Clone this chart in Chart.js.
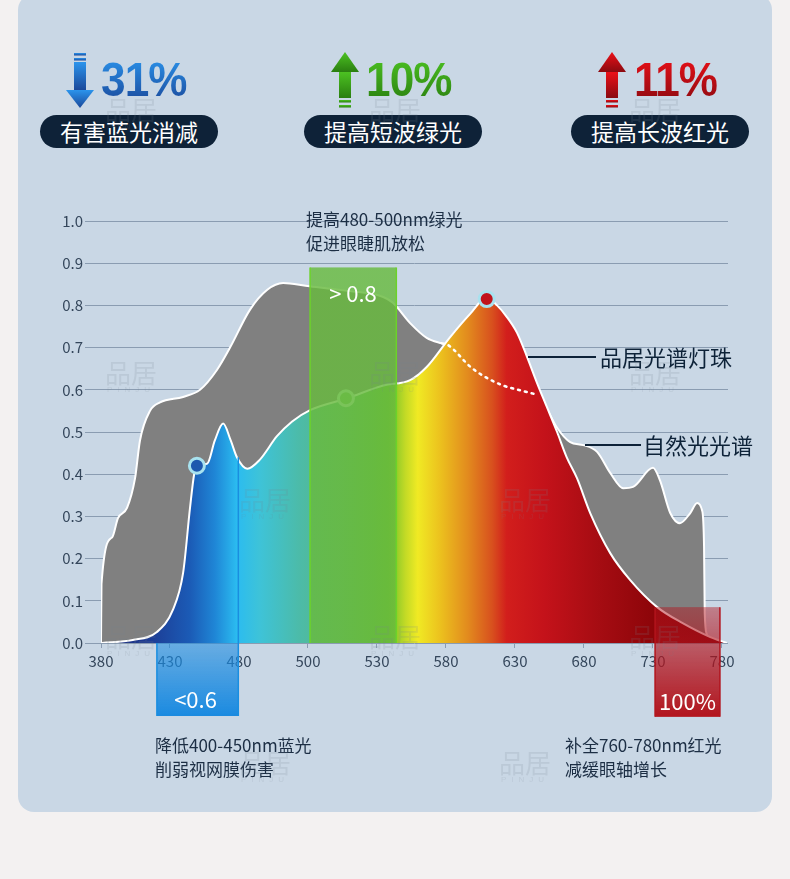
<!DOCTYPE html>
<html>
<head>
<meta charset="utf-8">
<script src="https://cdn.jsdelivr.net/npm/chart.js@4.4.1/dist/chart.umd.min.js"></script>
<style>
  body { margin: 0; width: 790px; height: 879px; background: #f3f1f1; position: relative; overflow: hidden;
         font-family: "Noto Sans CJK SC", "Noto Sans", sans-serif; }
  .card { position: absolute; left: 18px; top: -6px; width: 754px; height: 818px; background: #c9d7e5; border-radius: 16px; }
  #wrap { position: absolute; left: 0; top: 0; width: 790px; height: 879px; }
  .t { position: absolute; white-space: nowrap; }
  .pct { position: absolute; top: 56px; font-family: "Liberation Sans", Arial, sans-serif; font-weight: bold; font-size: 48px;
         line-height: 48px; transform: scaleX(0.92); transform-origin: left top; letter-spacing: -1px;
         -webkit-background-clip: text; background-clip: text; color: transparent; }
  .pill { position: absolute; top: 115px; width: 178px; height: 33px; border-radius: 17px; background: #0e2238;
          color: #fff; font-size: 23px; line-height: 33px; text-align: center; }
  .note { font-size: 17px; line-height: 24px; color: #1c2e44; }
  .big { font-size: 22px; line-height: 30px; color: #0d2238; }
  .lead { position: absolute; height: 2px; background: #0d2238; }
  .boxlab { position: absolute; color: #fff; font-size: 22px; line-height: 30px; text-align: center; }
  .wm { position: absolute; color: rgba(120,130,145,0.16); font-size: 26px; line-height: 26px; text-align: center; width: 60px; }
  .wm span { display: block; font-size: 8px; line-height: 10px; letter-spacing: 5px; font-family: "Liberation Sans", sans-serif; }
</style>
</head>
<body>
<div class="card"></div>

<svg class="t" style="left:66px;top:52px" width="28" height="56">
  <defs><linearGradient id="gb" x1="0" y1="0" x2="0" y2="1"><stop offset="0" stop-color="#2b94ec"/><stop offset="1" stop-color="#1a489a"/></linearGradient></defs>
  <rect x="8" y="1" width="12" height="2.5" fill="url(#gb)"/><rect x="8" y="6" width="12" height="2.5" fill="url(#gb)"/>
  <rect x="8" y="10" width="12" height="28" fill="url(#gb)"/><polygon points="0,38 28,38 14,56" fill="url(#gb)"/>
</svg>
<svg class="t" style="left:331px;top:52px" width="28" height="56">
  <defs><linearGradient id="gg" x1="0" y1="0" x2="0" y2="1"><stop offset="0" stop-color="#4cc222"/><stop offset="1" stop-color="#2a7e10"/></linearGradient></defs>
  <polygon points="14,0 28,20 0,20" fill="url(#gg)"/><rect x="8" y="20" width="12" height="26" fill="url(#gg)"/>
  <rect x="8" y="48" width="12" height="2.5" fill="url(#gg)"/><rect x="8" y="53" width="12" height="2.5" fill="url(#gg)"/>
</svg>
<svg class="t" style="left:598px;top:52px" width="28" height="56">
  <defs><linearGradient id="gr" x1="0" y1="0" x2="0" y2="1"><stop offset="0" stop-color="#ec1018"/><stop offset="1" stop-color="#8a0a10"/></linearGradient></defs>
  <polygon points="14,0 28,20 0,20" fill="url(#gr)"/><rect x="8" y="20" width="12" height="26" fill="url(#gr)"/>
  <rect x="8" y="48" width="12" height="2.5" fill="url(#gr)"/><rect x="8" y="53" width="12" height="2.5" fill="url(#gr)"/>
</svg>

<div class="pct" style="left:101px;background-image:linear-gradient(#2b94ec,#1a489a)">31%</div>
<div class="pct" style="left:366px;background-image:linear-gradient(#4cc222,#2a7e10)">10%</div>
<div class="pct" style="left:634px;background-image:linear-gradient(#ec1018,#8a0a10)">11%</div>

<div class="pill" style="left:40px">有害蓝光消减</div>
<div class="pill" style="left:304px">提高短波绿光</div>
<div class="pill" style="left:571px">提高长波红光</div>

<div id="wrap"><canvas id="chart"></canvas></div>

<div class="t note" style="left:306px;top:207px">提高480-500nm绿光<br>促进眼睫肌放松</div>
<div class="t note" style="left:155px;top:733px">降低400-450nm蓝光<br>削弱视网膜伤害</div>
<div class="t note" style="left:565px;top:733px">补全760-780nm红光<br>减缓眼轴增长</div>

<div class="lead" style="left:528px;top:356px;width:68px"></div>
<div class="t big" style="left:600px;top:341px">品居光谱灯珠</div>
<div class="lead" style="left:585px;top:444px;width:56px"></div>
<div class="t big" style="left:643px;top:429px">自然光光谱</div>

<div class="boxlab" style="left:310px;top:277px;width:86px">&gt; 0.8</div>
<div class="boxlab" style="left:155px;top:683px;width:81px">&lt;0.6</div>
<div class="boxlab" style="left:655px;top:685px;width:65px">100%</div>

<div class="wm" style="left:101px;top:96px">品居<span>PINJU</span></div>
<div class="wm" style="left:365px;top:96px">品居<span>PINJU</span></div>
<div class="wm" style="left:625px;top:96px">品居<span>PINJU</span></div>
<div class="wm" style="left:101px;top:359px">品居<span>PINJU</span></div>
<div class="wm" style="left:365px;top:359px">品居<span>PINJU</span></div>
<div class="wm" style="left:625px;top:359px">品居<span>PINJU</span></div>
<div class="wm" style="left:235px;top:486px">品居<span>PINJU</span></div>
<div class="wm" style="left:495px;top:486px">品居<span>PINJU</span></div>
<div class="wm" style="left:101px;top:623px">品居<span>PINJU</span></div>
<div class="wm" style="left:365px;top:623px">品居<span>PINJU</span></div>
<div class="wm" style="left:625px;top:623px">品居<span>PINJU</span></div>
<div class="wm" style="left:235px;top:749px">品居<span>PINJU</span></div>
<div class="wm" style="left:495px;top:749px">品居<span>PINJU</span></div>

<script>
// x axis is drawn as evenly spaced label positions (0..9)
const xLabels = ['380', '430', '480', '500', '530', '580', '630', '680', '730', '780'];

// natural light spectrum (grey)
const naturalX = [0, 0.007, 0.16, 0.246, 0.377, 0.493, 0.565, 0.71, 0.855, 1.19, 1.435, 1.68, 1.87, 2.16, 2.41, 2.64, 2.99, 3.54,
                  4.09, 4.23, 4.48, 4.72, 4.94, 5.03, 5.35, 5.54, 5.83, 6.12, 6.33, 6.43, 6.61, 6.80, 6.99, 7.19, 7.38, 7.57, 7.71, 8.0,
                  8.10, 8.25, 8.39, 8.54, 8.64, 8.71, 8.74, 8.75, 8.78, 8.80];
const naturalY = [0, 0.14, 0.25, 0.296, 0.32, 0.39, 0.48, 0.55, 0.57, 0.583, 0.60, 0.647, 0.70, 0.79, 0.837, 0.853, 0.846, 0.835,
                  0.82, 0.806, 0.758, 0.723, 0.71, 0.706, 0.655, 0.633, 0.61, 0.597, 0.588, 0.565, 0.51, 0.476, 0.469, 0.453, 0.403, 0.367, 0.37, 0.415,
                  0.386, 0.308, 0.284, 0.308, 0.332, 0.315, 0.228, 0.07, 0.02, 0];

// part of the natural curve hidden behind the LED curve (drawn dotted)
const hiddenFrom = 4.94, hiddenTo = 6.33;

// 品居 LED spectrum (coloured)
const ledX = [0.014, 0.46, 0.81, 1.04, 1.19, 1.29, 1.35, 1.39, 1.54, 1.65, 1.77, 1.88, 1.97, 2.12, 2.30, 2.55, 2.77, 3.03, 3.57,
              4.09, 4.48, 4.72, 5.06, 5.35, 5.59, 5.74, 5.88, 6.03, 6.17, 6.32, 6.46, 6.61, 6.75, 6.90, 7.09, 7.38, 7.67, 8.06, 8.43, 8.83, 9.07];
const ledY = [0, 0.007, 0.026, 0.078, 0.166, 0.32, 0.40, 0.42, 0.425, 0.48, 0.52, 0.48, 0.44, 0.413, 0.434, 0.49, 0.525, 0.552, 0.58,
              0.61, 0.623, 0.654, 0.725, 0.78, 0.818, 0.80, 0.773, 0.735, 0.68, 0.616, 0.56, 0.50, 0.44, 0.39, 0.308, 0.213, 0.149, 0.085, 0.047, 0.014, 0];

// highlighted points on the LED curve
const markerX = [1.39, 3.55, 5.59];
const markerY = [0.42, 0.58, 0.815];

const markerFill = ['#1e58ae', '#74c062', '#c0141c'];
const markerRing = ['#a8e2ef', '#cdeed6', '#a8e2ef'];

const spectrumStops = [
  [0, '#1b2a78'], [0.71, '#1d3c94'], [1.29, '#1b5bb6'], [1.65, '#1f86d6'], [1.97, '#2bbcf0'], [2.30, '#3ec3d8'],
  [2.88, '#4cbba8'], [3.46, '#5ab882'], [3.93, '#60bb4c'], [4.16, '#6cc02c'], [4.41, '#c2da26'], [4.59, '#f0ea24'],
  [4.91, '#ecc21e'], [5.32, '#e28a1e'], [5.67, '#d8501e'], [5.88, '#d21e1c'], [6.43, '#c4121a'], [7.23, '#a50c12'],
  [8.10, '#8a0408'], [9.07, '#78000a']
];

const bands = [
  { from: 3.03, to: 4.28, top: 0.89, bottom: 0, fill: ['rgba(104,186,62,0.82)', 'rgba(104,186,62,0.82)'], edge: '#6cd22a' },
  { from: 0.81, to: 1.99, top: 0, bottom: -0.173, fill: ['rgba(26,138,224,0.55)', 'rgba(26,138,224,1)'], edge: '#1a8ee0', edgeTop: 0.44 },
  { from: 8.03, to: 8.97, top: 0.085, bottom: -0.175, fill: ['rgba(178,20,29,0.45)', 'rgba(178,20,29,1)'], edge: '#b2141d' }
];

const toPts = (xs, ys) => xs.map((x, i) => ({ x: x, y: ys[i] }));
const naturalPts = toPts(naturalX, naturalY);
const hiddenPts = naturalPts.filter(p => p.x >= hiddenFrom && p.x <= hiddenTo);

function spectrumFill(ctx) {
  const chart = ctx.chart;
  const area = chart.chartArea;
  if (!area) return '#1b5bb6';
  const xs = chart.scales.x;
  const g = chart.ctx.createLinearGradient(area.left, 0, area.right, 0);
  spectrumStops.forEach(([v, c]) => {
    const p = (xs.getPixelForValue(v) - area.left) / (area.right - area.left);
    g.addColorStop(Math.min(1, Math.max(0, p)), c);
  });
  return g;
}

const bandPlugin = {
  id: 'bands',
  afterDatasetsDraw(chart) {
    const { ctx, scales: { x, y } } = chart;
    bands.forEach(b => {
      const x1 = x.getPixelForValue(b.from), x2 = x.getPixelForValue(b.to);
      const y1 = y.getPixelForValue(b.top), y2 = y.getPixelForValue(b.bottom);
      const g = ctx.createLinearGradient(0, y1, 0, y2);
      g.addColorStop(0, b.fill[0]);
      g.addColorStop(1, b.fill[1]);
      ctx.save();
      ctx.fillStyle = g;
      ctx.fillRect(x1, y1, x2 - x1, y2 - y1);
      ctx.strokeStyle = b.edge;
      ctx.lineWidth = 1.5;
      ctx.beginPath();
      ctx.moveTo(x1, y1); ctx.lineTo(x1, y2);
      ctx.moveTo(x2, b.edgeTop !== undefined ? y.getPixelForValue(b.edgeTop) : y1); ctx.lineTo(x2, y2);
      ctx.stroke();
      ctx.restore();
    });
  }
};

const tickFont = { family: '"Noto Sans CJK SC", "Noto Sans", sans-serif', size: 15, weight: 400 };

new Chart(document.getElementById('chart'), {
  type: 'line',
  data: {
    datasets: [
      {
        data: toPts(markerX, markerY), showLine: false, order: 0,
        pointRadius: 7.5, pointBorderWidth: 3,
        pointBackgroundColor: markerFill, pointBorderColor: markerRing
      },
      {
        data: hiddenPts, order: 1, fill: false, pointRadius: 0,
        borderColor: '#ffffff', borderWidth: 2.5, borderDash: [2, 5], borderCapStyle: 'round',
        cubicInterpolationMode: 'monotone'
      },
      {
        data: toPts(ledX, ledY), order: 2, fill: 'origin', pointRadius: 0,
        backgroundColor: spectrumFill, borderColor: '#ffffff', borderWidth: 2,
        cubicInterpolationMode: 'monotone'
      },
      {
        data: naturalPts, order: 3, fill: 'origin', pointRadius: 0,
        backgroundColor: '#808080', borderColor: '#ffffff', borderWidth: 2,
        cubicInterpolationMode: 'monotone'
      }
    ]
  },
  options: {
    responsive: true,
    maintainAspectRatio: false,
    animation: false,
    layout: { padding: { left: 0, right: 62, top: 221, bottom: 0 } },
    plugins: { legend: { display: false }, tooltip: { enabled: false } },
    scales: {
      x: {
        type: 'linear', min: 0, max: 9.087,
        afterBuildTicks: s => { s.ticks = xLabels.map((_, i) => ({ value: i })); },
        afterFit: s => { s.height = 236; },
        grid: { drawOnChartArea: false, drawTicks: true, tickLength: 5, color: '#8a9cb1' },
        border: { display: false },
        ticks: {
          autoSkip: false, maxRotation: 0, padding: 4, color: '#34465b', font: tickFont,
          callback: v => xLabels[v] ?? ''
        }
      },
      y: {
        min: 0, max: 1,
        afterFit: s => { s.width = 101; },
        grid: { color: '#8a9cb1', lineWidth: 1, drawTicks: true, tickLength: 16 },
        border: { display: false },
        ticks: {
          stepSize: 0.1, padding: 2, color: '#34465b', font: tickFont,
          callback: v => Number(v).toFixed(1)
        }
      }
    }
  },
  plugins: [bandPlugin]
});
</script>
</body>
</html>
